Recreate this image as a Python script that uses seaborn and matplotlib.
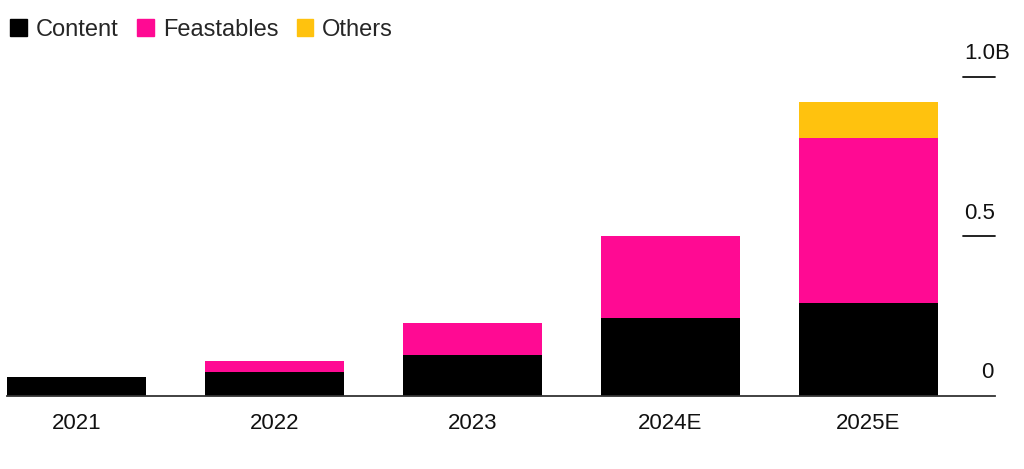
import pandas as pd
import matplotlib.pyplot as plt
import seaborn as sns
from matplotlib.patches import Patch

years = ['2021', '2022', '2023', '2024E', '2025E']
content = [0.06, 0.075, 0.13, 0.245, 0.29]
feastables = [0.0, 0.035, 0.10, 0.255, 0.52]
others = [0.0, 0.0, 0.0, 0.0, 0.11]

c_content = '#000000'
c_feast = '#ff0a93'
c_others = '#ffc20e'

df = pd.DataFrame({'year': years, 'content': content,
                   'feastables': feastables, 'others': others})
df['cf'] = df['content'] + df['feastables']
df['total'] = df['cf'] + df['others']

sns.set_style('white')
plt.rcParams['font.family'] = ['Liberation Sans', 'DejaVu Sans']

fig = plt.figure(figsize=(10.24, 4.69), dpi=100)
ax = fig.add_axes([7 / 1024, 73 / 469, (995 - 7) / 1024, (396 - 61) / 469])

# stacked by overdrawing: total, then content+feastables, then content
for col, c in [('total', c_others), ('cf', c_feast), ('content', c_content)]:
    sns.barplot(data=df, x='year', y=col, color=c, width=0.7,
                saturation=1, linewidth=0, edgecolor='none', ax=ax)

ax.set_xlim(-0.35, 4.64)
ax.set_ylim(0, 1.05)
ax.set_xlabel('')
ax.set_ylabel('')
ax.set_yticks([])
ax.tick_params(axis='x', length=0, pad=12, labelsize=16, labelcolor='#111111')

for s in ['top', 'left', 'right']:
    ax.spines[s].set_visible(False)
ax.spines['bottom'].set_color('#333333')
ax.spines['bottom'].set_linewidth(1.3)

# right-side value labels with short tick lines
tr = ax.get_yaxis_transform()
for val, lab in [(1.0, '1.0B'), (0.5, '0.5')]:
    ax.plot([0.968, 1.0], [val, val], color='#111111', lw=1.3,
            transform=tr, clip_on=False)
    ax.text(1.0 if lab == '0.5' else 1.015, val + 0.04, lab, transform=tr,
            ha='right', va='bottom', fontsize=16, color='#111111')
ax.text(0.998, 0.04, '0', transform=tr, ha='right', va='bottom',
        fontsize=16, color='#111111')

handles = [Patch(color=c_content, label='Content'),
           Patch(color=c_feast, label='Feastables'),
           Patch(color=c_others, label='Others')]
fig.legend(handles=handles, loc='upper left', bbox_to_anchor=(0.001, 0.98),
           ncol=3, frameon=False, fontsize=17, handlelength=0.7,
           handleheight=0.7, handletextpad=0.38, columnspacing=0.78,
           borderpad=0.1, borderaxespad=0.3)

fig.savefig('out.png', dpi=100)
